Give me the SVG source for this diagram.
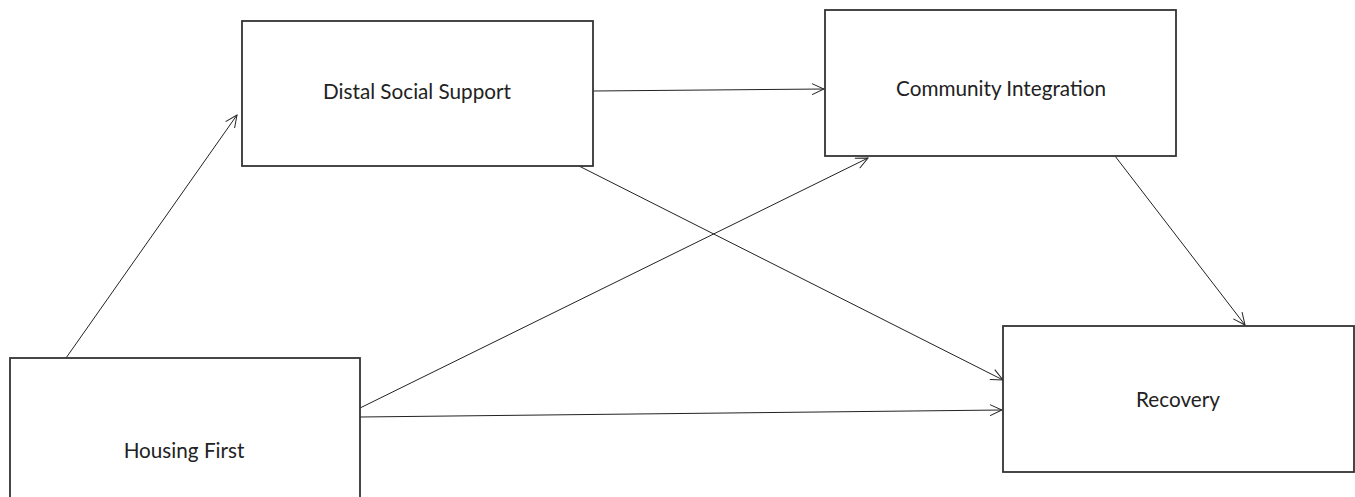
<svg xmlns="http://www.w3.org/2000/svg" width="1355" height="497" viewBox="0 0 1355 497">
<style>
.box{fill:#fff;stroke:#333;stroke-width:1.8}
.lbl{font-family:Lato,"Open Sans","Liberation Sans",sans-serif;font-size:20.7px;fill:#222;text-anchor:middle}
.edge{fill:none;stroke:#222;stroke-width:1}
</style>
<defs>
<marker id="arr" markerUnits="userSpaceOnUse" markerWidth="14" markerHeight="12" refX="13" refY="6" orient="auto">
<path d="M1,0.5 L13,6 L1,11.5" fill="none" stroke="#222" stroke-width="1"/>
</marker>
</defs>
<rect width="1355" height="497" fill="#fff"/>
<g id="connectors">
<line class="edge" x1="66" y1="358" x2="237" y2="115" marker-end="url(#arr)"/>
<line class="edge" x1="593" y1="91" x2="824" y2="89" marker-end="url(#arr)"/>
<line class="edge" x1="579" y1="166" x2="1003" y2="380" marker-end="url(#arr)"/>
<line class="edge" x1="360" y1="408" x2="868" y2="158" marker-end="url(#arr)"/>
<line class="edge" x1="360" y1="417" x2="1002" y2="410" marker-end="url(#arr)"/>
<line class="edge" x1="1115" y1="156" x2="1245" y2="325" marker-end="url(#arr)"/>
</g>
<g id="distal">
<rect class="box" x="242" y="21" width="351" height="145"/>
<text class="lbl" x="417" y="99">Distal Social Support</text>
</g>
<g id="community">
<rect class="box" x="825" y="10" width="351" height="146"/>
<text class="lbl" x="1001" y="96">Community Integration</text>
</g>
<g id="housing">
<rect class="box" x="10" y="358" width="350" height="150"/>
<text class="lbl" x="184" y="458">Housing First</text>
</g>
<g id="recovery">
<rect class="box" x="1003" y="326" width="351" height="146"/>
<text class="lbl" x="1178" y="407">Recovery</text>
</g>
</svg>
